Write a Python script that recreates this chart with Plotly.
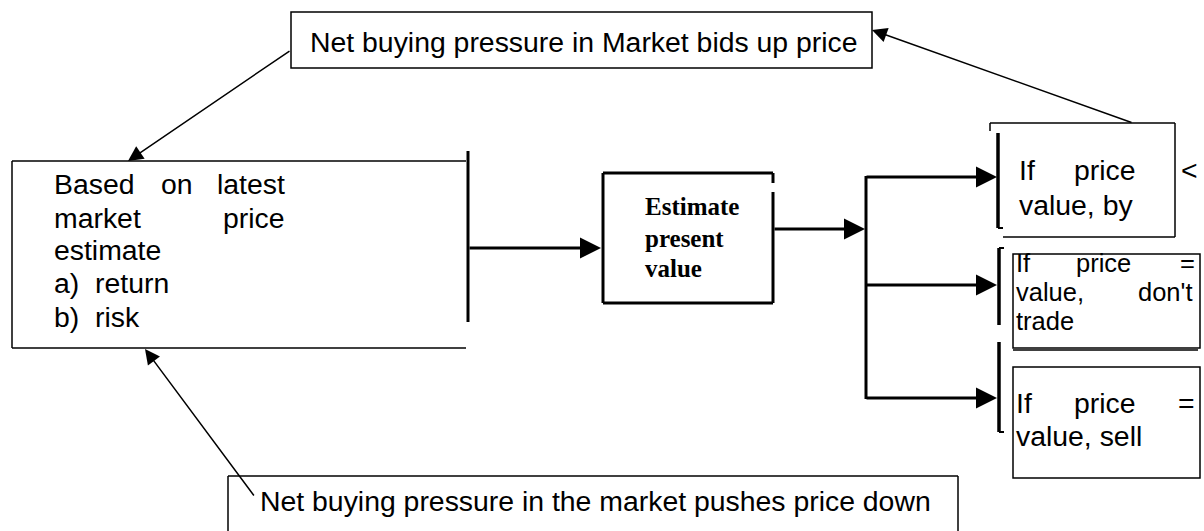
import plotly.graph_objects as go

# ---------------- text content (data) ----------------
top_label = ["Net buying pressure in Market bids up price"]
bottom_label = ["Net buying pressure in the market pushes price down"]
left_box_lines = [["Based", "on", "latest"], ["market", "price"], ["estimate"], ["a)  return"], ["b)  risk"]]
center_box_lines = ["Estimate", "present", "value"]
box1_lines = [["If", "price", "<"], ["value, by"]]
box2_lines = [["If", "price", "="], ["value,", "don't"], ["trade"]]
box3_lines = [["If", "price", "="], ["value, sell"]]

W, H = 1204, 531
SANS = "Liberation Sans, Arial, sans-serif"
SERIF = "Liberation Serif, Times New Roman, serif"
FS = 28.4

fig = go.Figure()
shapes = []
ann = []


def line(x0, y0, x1, y1, w=1.5):
    shapes.append(dict(type="line", x0=x0, y0=y0, x1=x1, y1=y1, xref="x", yref="y",
                       line=dict(color="black", width=w)))


def rect(x0, y0, x1, y1, w=1.5):
    shapes.append(dict(type="rect", x0=x0, y0=y0, x1=x1, y1=y1, xref="x", yref="y",
                       line=dict(color="black", width=w), fillcolor="rgba(0,0,0,0)"))


def txt(s, x, y, anchor="left", font=SANS, size=FS, bold=False):
    if bold:
        s = "<b>" + s + "</b>"
    ann.append(dict(text=s, x=x, y=y, xref="x", yref="y", xanchor=anchor, yanchor="middle",
                    showarrow=False, borderpad=0,
                    font=dict(family=font, size=size, color="black")))


def arrow(x0, y0, x1, y1, w=1.5, size=2.0):
    ann.append(dict(text="", x=x1, y=y1, ax=x0, ay=y0, xref="x", yref="y", axref="x", ayref="y",
                    showarrow=True, arrowhead=2, arrowsize=size, arrowwidth=w, arrowcolor="black",
                    standoff=0, startstandoff=0))


# ---------------- top box ----------------
rect(291, 12, 872, 68)
txt(top_label[0], 309, 42)

# ---------------- left box ----------------
line(12, 161, 466, 161)
line(12, 161, 12, 348)
line(12, 348, 466, 348)
line(468, 151, 468, 322, 3)
left_y = [184, 218, 250, 283, 317]
for words, y in zip(left_box_lines, left_y):
    if len(words) == 3:
        txt(words[0], 53, y)
        txt(words[1], 160, y)
        txt(words[2], 286, y, "right")
    elif len(words) == 2:
        txt(words[0], 53, y)
        txt(words[1], 286, y, "right")
    else:
        txt(words[0], 53, y)

# ---------------- estimate box ----------------
line(603, 173, 773, 173, 3)
line(603, 173, 603, 303, 3)
line(603, 303, 773, 303, 3)
line(773, 173, 773, 183, 3)
line(773, 192, 773, 303, 3)
for s, y in zip(center_box_lines, [206, 238, 268]):
    txt(s, 644, y, font=SERIF, size=25, bold=True)

# ---------------- flow arrows ----------------
arrow(468, 248, 601, 248, 3, 1.4)
arrow(773, 229, 865, 229, 3, 1.4)
line(866, 176, 866, 399, 3)
for y in [177, 285, 398]:
    arrow(865, y, 997, y, 3, 1.4)

# ---------------- right boxes ----------------
line(990, 123, 1175, 123)
line(1175, 123, 1175, 237)
line(1003, 237, 1175, 237)
line(990, 123, 990, 131)
line(998, 133, 998, 228, 3.5)
line(998, 228, 1003, 228, 2)
txt(box1_lines[0][0], 1018, 170)
txt(box1_lines[0][1], 1073, 170)
txt(box1_lines[0][2], 1180, 170)
txt(box1_lines[1][0], 1018, 205)

FS2 = 25.5
rect(1013, 254, 1200, 348)
line(1013, 350, 1198, 350, 1.5)
line(999, 248, 999, 325, 3.5)
line(999, 248, 1004, 248, 2)
txt(box2_lines[0][0], 1015, 263, size=FS2)
txt(box2_lines[0][1], 1075, 263, size=FS2)
txt(box2_lines[0][2], 1196, 263, "right", size=FS2)
txt(box2_lines[1][0], 1015, 292, size=FS2)
txt(box2_lines[1][1], 1194, 292, "right", size=FS2)
txt(box2_lines[2][0], 1015, 321, size=FS2)

rect(1013, 367, 1200, 478)
line(999, 342, 999, 432, 3.5)
line(999, 432, 1004, 432, 2)
txt(box3_lines[0][0], 1015, 403)
txt(box3_lines[0][1], 1073, 403)
txt(box3_lines[0][2], 1196, 403, "right")
txt(box3_lines[1][0], 1015, 436)

# ---------------- bottom box ----------------
line(228, 476, 958, 476)
line(228, 476, 228, 540)
line(958, 476, 958, 540)
txt(bottom_label[0], 259, 501)

# ---------------- feedback arrows ----------------
arrow(291, 50, 128, 161, 1.5, 2.0)
arrow(1133, 123, 872, 30, 1.5, 2.0)
arrow(255, 497, 145, 349, 1.5, 2.0)

fig.update_layout(
    width=W, height=H, autosize=False,
    margin=dict(l=0, r=0, t=0, b=0, pad=0),
    paper_bgcolor="white", plot_bgcolor="white",
    xaxis=dict(range=[0, W], visible=False, fixedrange=True),
    yaxis=dict(range=[H, 0], visible=False, fixedrange=True),
    shapes=shapes, annotations=ann, showlegend=False,
)
fig.write_html("out.html", config={"displayModeBar": False},
               post_script="document.body.style.margin='0';document.body.style.overflow='hidden';")
